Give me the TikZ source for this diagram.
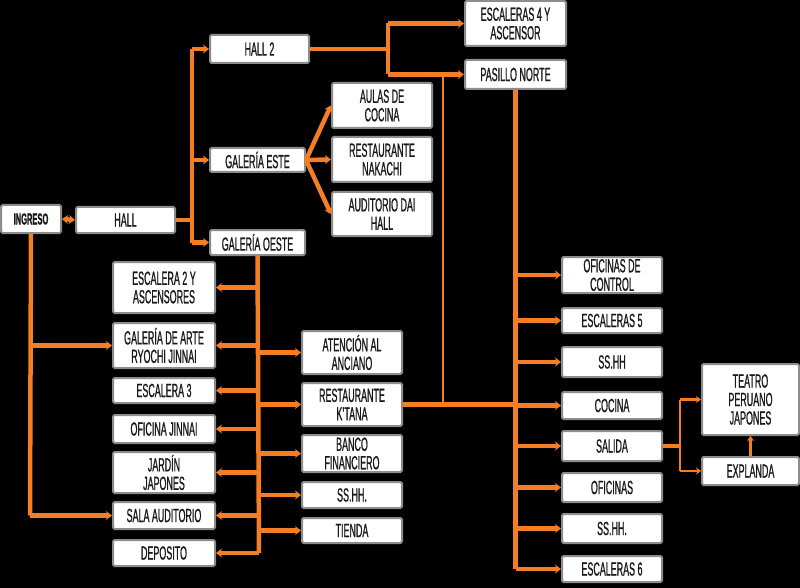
\documentclass[tikz,border=0pt]{standalone}
\usepackage{fontspec}
\setmainfont[FakeStretch=0.47,FakeBold=0.8]{Liberation Sans}
\usetikzlibrary{arrows.meta}
\definecolor{ln}{RGB}{245,125,35}
\definecolor{bd}{RGB}{140,140,140}
\begin{document}
\begin{tikzpicture}[x=1pt,y=-1pt,
  box/.style={draw=bd,line width=2pt,fill=white,rounded corners=1.5pt,inner sep=0pt,
    align=center,font=\fontsize{19}{18.5}\selectfont,text=black!90},
  conn/.style={draw=ln,line width=4.5pt},
  thin/.style={draw=ln,line width=2.2pt},
  arr/.style={conn,-{Stealth[length=6pt,width=9pt]}},
  arrt/.style={draw=ln,line width=2.5pt,-{Stealth[length=5pt,width=7pt]}},
  dbl/.style={conn,{Stealth[length=6pt,width=9pt]}-{Stealth[length=6pt,width=9pt]}}]
\fill[black] (0,0) rectangle (800,588);
\useasboundingbox (0,0) rectangle (800,588);

% ---- nodes ----
\node[box,minimum width=60pt,minimum height=28pt,font=\fontsize{16}{16}\selectfont\bfseries] (ing) at (31,219) {INGRESO};
\node[box,minimum width=99pt,minimum height=26pt] (hall) at (125.5,220) {HALL};
\node[box,minimum width=99pt,minimum height=28pt] (hall2) at (259.5,49) {HALL 2};
\node[box,minimum width=95pt,minimum height=24pt] (gest) at (257.5,160) {GALERÍA ESTE};
\node[box,minimum width=95pt,minimum height=25pt] (goes) at (257.5,242.5) {GALERÍA OESTE};
\node[box,minimum width=100pt,minimum height=45pt] (aulas) at (382,105.5) {AULAS DE\\COCINA};
\node[box,minimum width=100pt,minimum height=45pt] (nak) at (382,159.5) {RESTAURANTE\\NAKACHI};
\node[box,minimum width=100pt,minimum height=44pt] (dai) at (382,214) {AUDITORIO DAI\\HALL};
\node[box,minimum width=101pt,minimum height=45pt] (esc4) at (515.5,23.5) {ESCALERAS 4 Y\\ASCENSOR};
\node[box,minimum width=101pt,minimum height=29pt] (pas) at (515.5,74.5) {PASILLO NORTE};

\node[box,minimum width=102pt,minimum height=51pt] (esc2) at (164,287.5) {ESCALERA 2 Y\\ASCENSORES};
\node[box,minimum width=102pt,minimum height=45pt] (arte) at (164,345.5) {GALERÍA DE ARTE\\RYOCHI JINNAI};
\node[box,minimum width=102pt,minimum height=25pt] (esc3) at (164,390.5) {ESCALERA 3};
\node[box,minimum width=102pt,minimum height=28pt] (ofj) at (164,429) {OFICINA JINNAI};
\node[box,minimum width=102pt,minimum height=41pt] (jar) at (164,472.5) {JARDÍN\\JAPONES};
\node[box,minimum width=102pt,minimum height=27pt] (sala) at (164,515.5) {SALA AUDITORIO};
\node[box,minimum width=102pt,minimum height=26pt] (dep) at (164,553) {DEPOSITO};

\node[box,minimum width=100pt,minimum height=43pt] (aten) at (352,352.5) {ATENCIÓN AL\\ANCIANO};
\node[box,minimum width=100pt,minimum height=43pt] (kt) at (352,404.5) {RESTAURANTE\\K’TANA};
\node[box,minimum width=100pt,minimum height=37pt] (banco) at (352,453.5) {BANCO\\FINANCIERO};
\node[box,minimum width=100pt,minimum height=26pt] (sshA) at (352,495) {SS.HH.};
\node[box,minimum width=100pt,minimum height=25pt] (tienda) at (352,530.5) {TIENDA};

\node[box,minimum width=100pt,minimum height=36pt] (ofc) at (612,275) {OFICINAS DE\\CONTROL};
\node[box,minimum width=100pt,minimum height=25pt] (esc5) at (612,320.5) {ESCALERAS 5};
\node[box,minimum width=100pt,minimum height=30pt] (sshB) at (612,362) {SS.HH};
\node[box,minimum width=100pt,minimum height=27pt] (coc) at (612,405.5) {COCINA};
\node[box,minimum width=100pt,minimum height=30pt] (sal) at (612,446) {SALIDA};
\node[box,minimum width=100pt,minimum height=29pt] (ofi) at (612,487.5) {OFICINAS};
\node[box,minimum width=100pt,minimum height=29pt] (sshC) at (612,528.5) {SS.HH.};
\node[box,minimum width=100pt,minimum height=26pt] (esc6) at (612,569) {ESCALERAS 6};

\node[box,minimum width=97pt,minimum height=71pt] (teatro) at (750.5,399.5) {TEATRO\\PERUANO\\JAPONES};
\node[box,minimum width=97pt,minimum height=28pt] (expl) at (750.5,471) {EXPLANDA};

% ---- trunk coordinates ----
\coordinate (hj) at (192,220);
\coordinate (t1top) at (192,49);
\coordinate (t1bot) at (192,242.5);
\coordinate (h2j) at (388,49);
\coordinate (h2top) at (388,23.5);
\coordinate (h2bot) at (388,74.5);
\coordinate (pj) at (443,74.5);
\coordinate (kj) at (443,404.5);
\coordinate (rtop) at (515.5,89);
\coordinate (rbot) at (515.5,569);
\coordinate (rk) at (515.5,404.5);
\coordinate (lbot) at (259,553);
\coordinate (ibot) at (30,515.5);
\coordinate (sj) at (680,446);
\coordinate (stop) at (680,399.5);
\coordinate (sbot) at (680,471);

% ---- connectors ----
\draw[dbl] (ing.east) -- (hall.west);
\draw[conn] (hall.east) -- (hj);
\draw[conn] (t1top) -- (t1bot);
\draw[arr] (t1top) -- (hall2.west);
\draw[arr] (t1top |- gest.west) -- (gest.west);
\draw[arr] (t1bot) -- (goes.west);

\draw[arr] (gest.east) -- (aulas.west);
\draw[arr] (gest.east) -- (nak.west);
\draw[arr] (gest.east) -- (dai.west);

\draw[conn] (hall2.east) -- (h2j);
\draw[conn] (h2top) -- (h2bot);
\draw[arr] (h2top) -- (esc4.west);
\draw[arr] (h2bot) -- (pas.west);

\draw[thin] (pj) -- (kj);
\draw[conn] (kt.east) -- (rk);

\draw[draw=ln,line width=5.5pt] (pas.south) -- (rbot);
\foreach \n in {ofc,esc5,sshB,coc,sal,ofi,sshC,esc6}
  \draw[arr] (rtop |- \n.west) -- (\n.west);

\draw[conn] (goes.south) -- (lbot);
\foreach \n in {esc2,arte,esc3,ofj,jar,sala,dep}
  \draw[arr] (lbot |- \n.east) -- (\n.east);
\foreach \n in {aten,kt,banco,sshA,tienda}
  \draw[arr] (lbot |- \n.west) -- (\n.west);

\draw[conn] (ing.south) -- (ibot);
\draw[arr] (ibot |- arte.west) -- (arte.west);
\draw[arr] (ibot) -- (sala.west);

\draw[conn] (sal.east) -- (sj);
\draw[draw=ln,line width=2.5pt] (stop) -- (sbot);
\draw[arrt] (stop) -- (teatro.west);
\draw[arrt] (sbot) -- (expl.west);
\draw[arrt] (expl.north) -- (teatro.south);
\end{tikzpicture}
\end{document}
